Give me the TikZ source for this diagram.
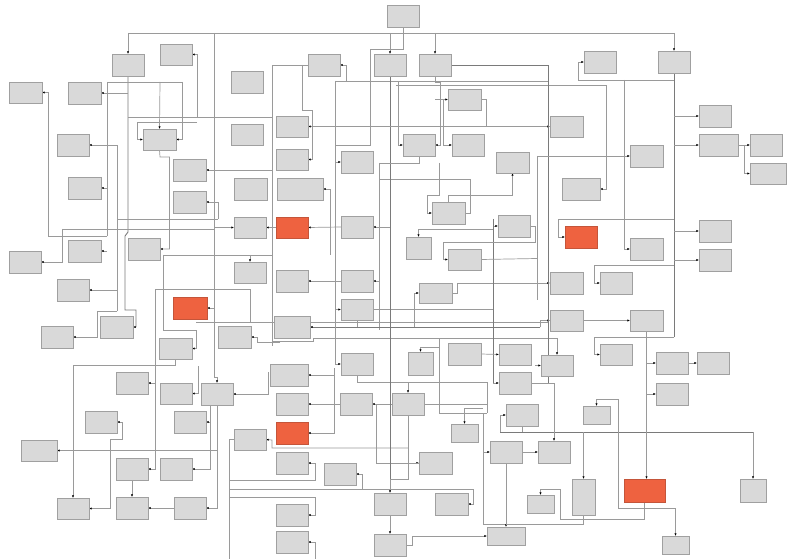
\documentclass[tikz,border=0pt]{standalone}
\usetikzlibrary{arrows.meta}
\pgfdeclarelayer{bg}\pgfsetlayers{bg,main}
\definecolor{boxfill}{HTML}{D9D9D9}
\definecolor{boxline}{HTML}{A0A0A0}
\definecolor{redfill}{HTML}{EE6240}
\definecolor{redline}{HTML}{C4553A}
\definecolor{wire}{HTML}{9A9A9A}
\definecolor{wiredark}{HTML}{7A7A7A}
\tikzset{
 box/.style={draw=boxline,fill=boxfill,line width=0.8pt,inner sep=0pt,outer sep=0pt},
 hot/.style={draw=redline,fill=redfill},
 ln/.style={draw=wire,line width=0.7pt},
 lnd/.style={draw=wiredark,line width=0.9pt},
 ar/.style={ln,-{Latex[length=2.6pt,width=2.2pt,color=black]}},
}
\newcommand\bx[6][]{\node[box,#1,minimum width={(#4-#2)*1pt},minimum height={(#5-#3)*1pt}] (#6) at ({(#2+#4)/2},{(#3+#5)/2}) {};}
\begin{document}
\begin{tikzpicture}[x=1pt,y=-1pt]
\useasboundingbox (0,0) rectangle (788,559);
% ---- boxes ----
\bx{9}{82}{42}{103}{n01}
\bx{68}{82}{101}{104}{n02}
\bx{57}{134}{89}{156}{n03}
\bx{68}{177}{101}{199}{n04}
\bx{9}{251}{41}{273}{n05}
\bx{68}{240}{101}{262}{n06}
\bx{57}{279}{89}{301}{n07}
\bx{100}{316}{133}{338}{n08}
\bx{41}{326}{73}{348}{n09}
\bx{112}{54}{144}{76}{n10}
\bx{160}{44}{192}{65}{n11}
\bx{143}{129}{176}{150}{n12}
\bx{173}{159}{206}{181}{n13}
\bx{173}{191}{206}{213}{n14}
\bx{128}{238}{160}{260}{n15}
\bx[hot]{173}{297}{207}{319}{r1}
\bx{159}{338}{192}{359}{n16}
\bx{116}{372}{148}{394}{n17}
\bx{160}{383}{192}{404}{n18}
\bx{201}{383}{233}{405}{n19}
\bx{85}{411}{117}{433}{n20}
\bx{174}{411}{206}{433}{n21}
\bx{21}{440}{57}{461}{n22}
\bx{116}{458}{148}{480}{n23}
\bx{160}{458}{192}{480}{n24}
\bx{57}{498}{89}{519}{n25}
\bx{116}{497}{148}{519}{n26}
\bx{174}{497}{206}{519}{n27}
\bx{231}{71}{263}{93}{n28}
\bx{231}{124}{263}{145}{n29}
\bx{234}{178}{267}{200}{n30}
\bx{234}{217}{266}{238}{n31}
\bx{234}{262}{266}{283}{n32}
\bx{218}{326}{251}{348}{n33}
\bx{234}{429}{266}{450}{n34}
\bx{276}{116}{308}{137}{n35}
\bx{276}{149}{308}{170}{n36}
\bx{277}{178}{323}{200}{n37}
\bx[hot]{276}{217}{308}{238}{r2}
\bx{276}{270}{308}{292}{n38}
\bx{274}{316}{310}{338}{n39}
\bx{270}{364}{308}{386}{n40}
\bx{276}{393}{308}{415}{n41}
\bx[hot]{276}{422}{308}{444}{r3}
\bx{276}{452}{308}{474}{n42}
\bx{276}{504}{308}{526}{n43}
\bx{276}{531}{308}{553}{n44}
\bx{308}{54}{340}{76}{n45}
\bx{341}{151}{373}{173}{n46}
\bx{341}{216}{373}{238}{n47}
\bx{341}{270}{373}{292}{n48}
\bx{341}{299}{373}{320}{n49}
\bx{341}{353}{373}{375}{n50}
\bx{340}{393}{372}{415}{n51}
\bx{324}{463}{356}{485}{n52}
\bx{387}{5}{419}{27}{n53}
\bx{374}{54}{406}{76}{n54}
\bx{419}{54}{451}{76}{n55}
\bx{403}{134}{435}{156}{n56}
\bx{392}{393}{424}{415}{n57}
\bx{408}{352}{433}{375}{n58}
\bx{406}{237}{431}{259}{n59}
\bx{419}{283}{452}{303}{n60}
\bx{419}{452}{452}{474}{n61}
\bx{374}{493}{406}{515}{n62}
\bx{374}{534}{406}{556}{n63}
\bx{435}{493}{468}{515}{n64}
\bx{448}{89}{481}{110}{n65}
\bx{452}{134}{484}{156}{n66}
\bx{432}{202}{465}{224}{n67}
\bx{448}{249}{481}{270}{n68}
\bx{448}{343}{481}{365}{n69}
\bx{451}{424}{478}{442}{n70}
\bx{496}{152}{529}{173}{n71}
\bx{498}{215}{530}{237}{n72}
\bx{499}{344}{531}{365}{n73}
\bx{499}{372}{531}{394}{n74}
\bx{506}{404}{538}{426}{n75}
\bx{490}{441}{522}{463}{n76}
\bx{487}{527}{525}{545}{n77}
\bx{550}{116}{583}{137}{n78}
\bx{562}{178}{600}{200}{n79}
\bx[hot]{565}{226}{597}{248}{r4}
\bx{550}{272}{583}{294}{n80}
\bx{600}{272}{632}{294}{n81}
\bx{550}{310}{583}{331}{n82}
\bx{541}{355}{573}{376}{n83}
\bx{538}{441}{570}{463}{n84}
\bx{583}{406}{610}{424}{n85}
\bx{572}{479}{595}{515}{n86}
\bx{527}{495}{554}{513}{n87}
\bx{584}{51}{616}{73}{n88}
\bx{630}{145}{663}{167}{n89}
\bx{630}{238}{663}{260}{n90}
\bx{630}{310}{663}{331}{n91}
\bx{600}{344}{632}{365}{n92}
\bx{658}{51}{690}{73}{n93}
\bx{656}{352}{688}{374}{n94}
\bx{697}{352}{729}{374}{n95}
\bx{656}{383}{688}{405}{n96}
\bx[hot]{624}{479}{665}{502}{r5}
\bx{662}{536}{689}{554}{n97}
\bx{699}{105}{731}{127}{n98}
\bx{699}{134}{738}{156}{n99}
\bx{750}{134}{782}{156}{n100}
\bx{750}{163}{786}{184}{n101}
\bx{699}{220}{731}{242}{n102}
\bx{699}{249}{731}{271}{n103}
\bx{740}{479}{766}{502}{n104}
% ---- connectors ----
\begin{pgfonlayer}{bg}
\fill[white] (0,0) rectangle (788,559);
% top bus
\draw[ln] (128,33) -- (674,33);
\draw[ar] (128,33) -- (n10.north);
\draw[ar] (390,33) -- (n54.north);
\draw[ar] (435,33) -- (n55.north);
\draw[ar] (674,33) -- (n93.north);
\draw[ln] (214,33) -- (214,377) -- (217,377);
\draw[ar] (217,377) -- (n19.north);
\draw[ln] (n53.south) -- (403,49) -- (370,49) -- (370,145) -- (335,145);
% left part
\draw[lnd] (n10.south) -- (128,232) -- (125,236) -- (125,310) -- (136,310) -- (136,327);
\draw[ar] (136,327) -- (n08.east);
\draw[ar] (197,117) -- (197,54.5) -- (n11.east);
\draw[ln] (128,117) -- (272,117);
\draw[ln] (107,82) -- (182,82);
\draw[ar] (160,82) -- (n12.north);
\draw[ar] (182,82) -- (182,139.5) -- (n12.east);
\draw[ln] (107,82) -- (107,236);
\draw[ar] (107,236) -- (48,236) -- (48,92.5) -- (n01.east);
\draw[ar] (128,93) -- (n02.east);
\draw[ar] (197,122) -- (137,122) -- (137,139.5) -- (n12.west);
\draw[ar] (n12.south) -- (160,157) -- (169.5,157) -- (169.5,249) -- (n15.east);
\draw[ar] (117,311) -- (117,145) -- (n03.east);
\draw[ar] (107,188) -- (n04.east);
\draw[ar] (214,170) -- (n13.east);
\draw[ln] (214,170) -- (272,170);
\draw[ln] (117,219) -- (218,219);
\draw[ar] (218,219) -- (218,202) -- (n14.east);
\draw[ln] (62,229) -- (214,229) -- (214,227.5);
\draw[ar] (214,227.5) -- (n31.west);
\draw[ar] (62,229) -- (62,262) -- (n05.east);
\draw[ar] (107,251) -- (n06.east);
\draw[ar] (117,290) -- (n07.east);
\draw[ar] (117,311) -- (97,311) -- (97,337) -- (n09.east);
\draw[ln] (163,255) -- (272,255);
\draw[ar] (250,255) -- (n32.north);
\draw[ar] (163,255) -- (163,330) -- (196,330) -- (196,348.5) -- (n16.east);
\draw[ln] (196,322) -- (548,322);
\draw[ln] (155,289) -- (250,289) -- (250,322);
\draw[ar] (155,289) -- (155,469) -- (n23.east);
\draw[ar] (155,383) -- (n17.east);
\draw[ar] (214,308) -- (r1.east);
\draw[ar] (n16.south) -- (175.5,365.5) -- (73,365.5) -- (n25.north);
\draw[ar] (280,342) -- (257,342) -- (257,337) -- (n33.east);
% lower left
\draw[ar] (217,450.5) -- (n22.east);
\draw[ar] (110,450) -- (110,439) -- (122,439) -- (122,422) -- (n20.east);
\draw[ar] (110,450) -- (110,508.5) -- (n25.east);
\draw[ar] (n27.west) -- (n26.east);
\draw[ar] (n23.south) -- (n26.north);
\draw[ar] (210,405) -- (210,469) -- (n24.east);
\draw[ar] (210,422) -- (n21.east);
\draw[ar] (n19.south) -- (217,508) -- (n27.east);
\draw[ar] (268,372) -- (268,394) -- (n19.east);
\draw[ar] (198,366) -- (198,393.5) -- (n18.east);
\draw[ln] (n34.west) -- (229,439.5) -- (229,559);
\draw[ar] (229,480) -- (315,480) -- (315,463) -- (n42.east);
\draw[ar] (229,497) -- (315,497) -- (315,515) -- (n43.east);
\draw[ar] (229,489) -- (473,489) -- (473,504) -- (n64.east);
\draw[ar] (315,559) -- (315,542) -- (n44.east);
\draw[ar] (362,489) -- (362,474) -- (n52.east);
% centre
\draw[ar] (n51.west) -- (n41.east);
\draw[ar] (n57.west) -- (n51.east);
\draw[ar] (376,404) -- (376,463) -- (n61.west);
\draw[ar] (n50.south) -- (357,382) -- (408,382) -- (n57.north);
\draw[ln] (408,382) -- (487,382) -- (487,413);
\draw[ln] (n57.east) -- (487,404);
\draw[ln] (439,413) -- (439,338);
\draw[ln] (439,413) -- (487,413);
\draw[ar] (n57.south) -- (408,479) -- (390,479) -- (n62.north);
\draw[ln] (408,463) -- (419,463);
\draw[ar] (408,448) -- (272,448) -- (272,440) -- (n34.east);
\draw[ar] (334,368) -- (334,433) -- (r3.east);
\draw[ar] (334,375) -- (n40.east);
\draw[ln] (483,413) -- (483,524) -- (506,524);
\draw[ar] (n76.south) -- (n77.north);
\draw[ar] (483,408) -- (464.5,408) -- (n70.north);
\draw[ar] (483,452) -- (n76.west);
\draw[ar] (n76.east) -- (n84.west);
\draw[ar] (500,432) -- (500,415) -- (n75.west);
\draw[ar] (n63.east) -- (412,545) -- (412,536) -- (n77.west);
\draw[ar] (n62.south) -- (n63.north);
\draw[ar] (330,255) -- (330,189) -- (n37.east);
\draw[ar] (n47.west) -- (r2.east);
\draw[ar] (r2.west) -- (n31.east);
\draw[ar] (390,227) -- (n47.east);
\draw[ln] (379,163) -- (379,330);
\draw[ar] (379,281) -- (n48.east);
\draw[ar] (n48.west) -- (n38.east);
\draw[ar] (335,309.5) -- (n49.west);
\draw[ln] (n49.east) -- (493,309.5);
\draw[ar] (414,327) -- (414,293) -- (n60.west);
\draw[ar] (n60.east) -- (457,293) -- (457,283) -- (n80.west);
\draw[ln] (n49.south) -- (357,327);
\draw[lnd] (540,327) -- (310,327);
\draw[ar] (312,327) -- (n39.east);
\draw[ar] (540,327) -- (540,320.5) -- (n82.west);
\draw[ln] (272,341) -- (313,341) -- (313,338) -- (557,338);
\draw[ar] (557,338) -- (n83.north);
\draw[ar] (n67.north) -- (448.5,195) -- (512.5,195) -- (n71.south);
\draw[ar] (439,163) -- (439,195) -- (427,195) -- (427,213) -- (n67.west);
\draw[ln] (n67.east) -- (470,213) -- (470,179) -- (380,179);
\draw[ar] (493,229.5) -- (418.5,229.5) -- (n59.north);
\draw[ar] (493,226) -- (n72.west);
\draw[lnd] (493,219) -- (493,383);
\draw[ar] (493,383) -- (n74.west);
\draw[ar] (n72.east) -- (535,226) -- (535,242) -- (443,242) -- (443,259.5) -- (n68.west);
\draw[ln] (n68.east) -- (537,258.5);
\draw[ar] (439,338) -- (439,347) -- (420.5,347) -- (n58.north);
\draw[ar] (n69.east) -- (n73.west);
\draw[ar] (335,364) -- (n50.west);
% upper centre
\draw[ar] (346,81) -- (346,65) -- (n45.east);
\draw[ln] (335,81) -- (548,81);
\draw[ln] (396,85) -- (606,85) -- (606,155);
\draw[ln] (n45.west) -- (272,65) -- (272,346);
\draw[ar] (302,65) -- (302,110) -- (312,110) -- (312,159.5) -- (n36.east);
\draw[ln] (335,81) -- (335,364);
\draw[ar] (335,162) -- (n46.west);
\draw[lnd] (n54.south) -- (390,479);
\draw[ar] (n55.south) -- (435,82) -- (440,82) -- (440,145) -- (n56.east);
\draw[ar] (398,82) -- (398,145) -- (n56.west);
\draw[ln] (n56.south) -- (419,163) -- (380,163);
\draw[ar] (435,99.5) -- (n65.west);
\draw[ar] (443,99.5) -- (443,145) -- (n66.west);
\draw[ar] (n65.east) -- (486,99.5) -- (486,126.5) -- (n35.east);
\draw[ar] (486,126.5) -- (n78.west);
% right part
\draw[lnd] (n55.east) -- (548,65) -- (548,383);
\draw[ar] (537,156) -- (n89.west);
\draw[ln] (537,156) -- (537,300);
\draw[ar] (578,80) -- (578,62) -- (n88.west);
\draw[ln] (578,80) -- (674,80);
\draw[lnd] (n93.south) -- (674,337);
\draw[ar] (674,116) -- (n98.west);
\draw[ar] (674,145) -- (n99.west);
\draw[ar] (n99.east) -- (n100.west);
\draw[ar] (744,145) -- (744,173.5) -- (n101.west);
\draw[ar] (624,80) -- (624,249) -- (n90.west);
\draw[ar] (674,219) -- (558,219) -- (558,237) -- (r4.west);
\draw[ar] (674,231) -- (n102.west);
\draw[ar] (674,260) -- (n103.west);
\draw[ar] (674,265) -- (594,265) -- (594,283) -- (n81.west);
\draw[ar] (674,337) -- (594,337) -- (594,354.5) -- (n92.west);
\draw[ar] (n82.east) -- (n91.west);
\draw[ar] (646,363) -- (n94.west);
\draw[ar] (n94.east) -- (n95.west);
\draw[ar] (646,394) -- (n96.west);
\draw[ar] (606,155) -- (606,189) -- (n79.east);
\draw[ar] (535,365.5) -- (n83.west);
\draw[lnd] (500,432) -- (753,432);
\draw[ln] (n75.south) -- (522,432);
\draw[ar] (753,432) -- (n104.north);
\draw[ar] (n74.east) -- (554,383) -- (n84.north);
\draw[ar] (583.5,432) -- (n86.north);
\draw[ar] (n91.south) -- (n91.south |- r5.north);
\draw[ar] (618,508) -- (618,399) -- (596.5,399) -- (n85.north);
\draw[ar] (618,508) -- (675.5,508) -- (n97.north);
\draw[ar] (r5.south) -- (644.5,519) -- (560,519) -- (560,489) -- (540.5,489) -- (n87.north);
\draw[ln] (n86.south) -- (583.5,524) -- (506,524);
\end{pgfonlayer}
\end{tikzpicture}
\end{document}
